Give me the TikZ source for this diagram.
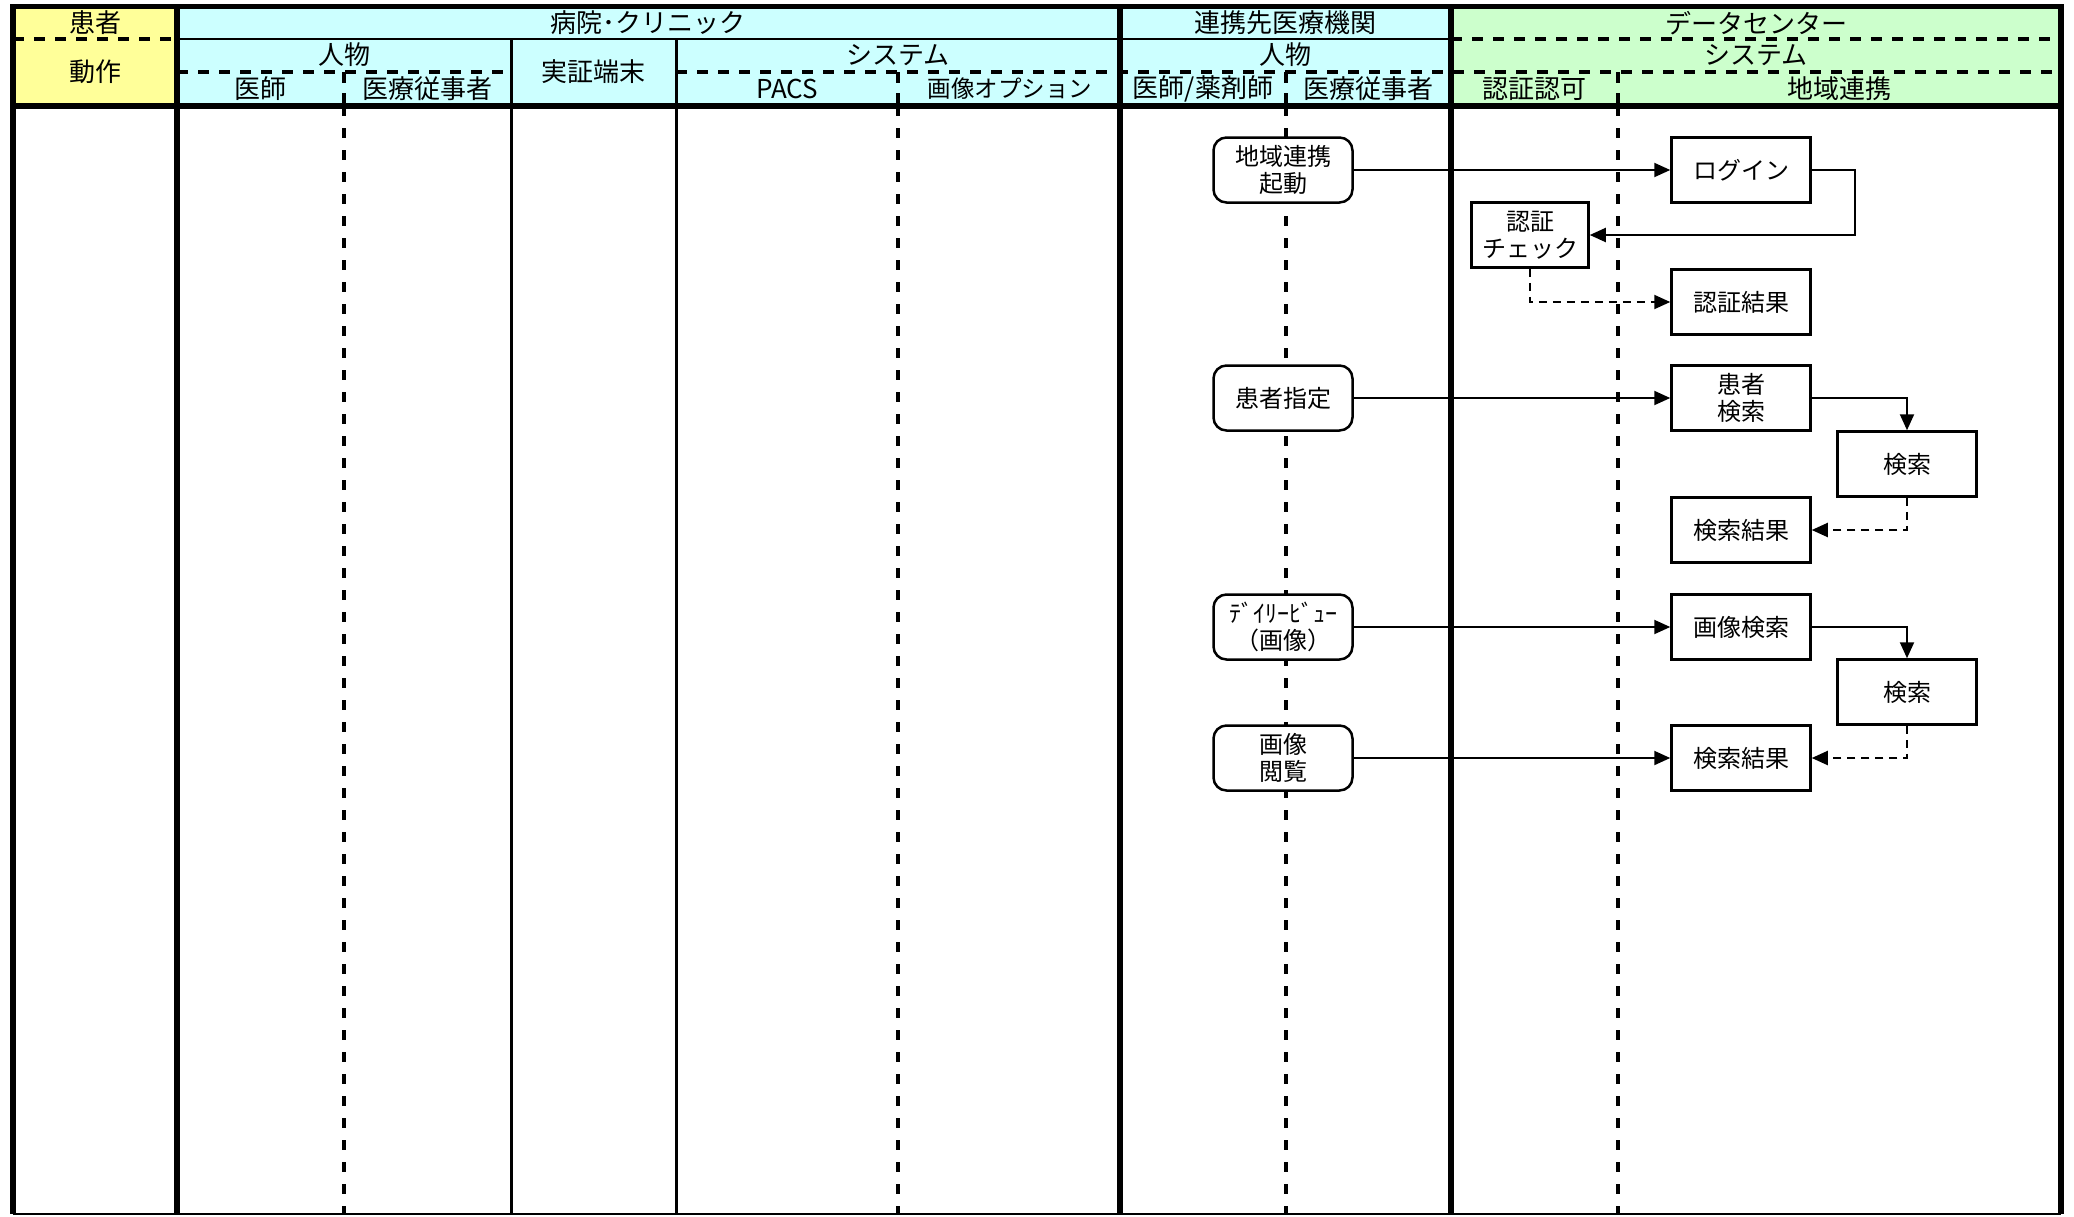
\documentclass[tikz,border=0pt]{standalone}
\usepackage{fontspec}
\setmainfont{Noto Sans CJK JP}
\usepackage{tikz}
\usetikzlibrary{arrows.meta}
\definecolor{kanjaYellow}{HTML}{FFFF99}
\definecolor{byoinCyan}{HTML}{CCFFFF}
\definecolor{centerGreen}{HTML}{CCFFCC}

\begin{document}
\begin{tikzpicture}[x=1pt,y=-1pt,
  hdr/.style={inner sep=0pt,font=\fontsize{26}{30}\selectfont},
  actbox/.style={draw,line width=2.5pt,rounded corners=13pt,fill=white,minimum width=139pt,minimum height=65pt,inner sep=0pt,align=center,font=\fontsize{24}{27}\selectfont},
  sysbox/.style={draw,line width=2.5pt,fill=white,minimum width=139pt,minimum height=65pt,inner sep=0pt,align=center,font=\fontsize{24}{27}\selectfont},
  flow/.style={line width=2pt,-{Triangle[length=16pt,width=14pt]}},
  reply/.style={flow,dash pattern=on 8pt off 6pt},
  hdrdash/.style={line width=3.5pt,dash pattern=on 11pt off 10pt},
  lanedash/.style={line width=4pt,dash pattern=on 10pt off 12pt},
  lanethick/.style={line width=5.5pt},
  lanethin/.style={line width=3pt}]
\useasboundingbox (0,0) rectangle (2074,1216);

%Header fills
\fill[kanjaYellow] (13,6) rectangle (177,106);
\fill[byoinCyan] (177,6) rectangle (1451,106);
\fill[centerGreen] (1451,6) rectangle (2061,106);

%Header row separators
\draw[hdrdash] (13,39) -- (177,39);
\draw[line width=2pt] (177,39) -- (1451,39);
\draw[hdrdash] (1451,39) -- (2061,39);
\draw[hdrdash] (177,72) -- (511,72);
\draw[hdrdash] (676,72) -- (2061,72);

%Header short dashed dividers
\foreach \xx in {344,898,1286,1618}
  \draw[hdrdash] (\xx,72) -- (\xx,106);

%Lanes
\foreach \xx in {344,898,1286,1618}
  \draw[lanedash] (\xx,106) -- (\xx,1214);
\foreach \xx in {511,676}
  \draw[lanethin] (\xx,39) -- (\xx,1214);
\foreach \xx in {13,177,1120,1451,2061}
  \draw[lanethick] (\xx,6) -- (\xx,1214);

%Frame lines
\draw[lanethick] (10,6.5) -- (2064,6.5);
\draw[lanethick] (10,106) -- (2064,106);
\draw[line width=2pt] (13,1214) -- (2061,1214);

% Text Node
\node[hdr] (hKanja) at (95,23) {患者};
\node[hdr] (hByoin) at (648,23) {病院･クリニック};
\node[hdr] (hRenkei) at (1285,23) {連携先医療機関};
\node[hdr] (hCenter) at (1756,23) {データセンター};
% Text Node
\node[hdr] (hDosa) at (95,72) {動作};
\node[hdr] (hJinbutsuA) at (344,55) {人物};
\node[hdr] (hTanmatsu) at (593,72) {実証端末};
\node[hdr] (hSystemA) at (898,55) {システム};
\node[hdr] (hJinbutsuB) at (1285,55) {人物};
\node[hdr] (hSystemB) at (1756,55) {システム};
% Text Node
\node[hdr] (hIshi) at (260,89) {医師};
\node[hdr] (hJujishaA) at (427,89) {医療従事者};
\node[hdr] (hPacs) at (787,89) {PACS};
\node[hdr,font=\fontsize{23.5}{28}\selectfont] (hOption) at (1010,89) {画像オプション};
\node[hdr] (hYakuzai) at (1203,89) {医師/薬剤師};
\node[hdr] (hJujishaB) at (1368,89) {医療従事者};
\node[hdr] (hNinka) at (1534,89) {認証認可};
\node[hdr] (hChiiki) at (1839,89) {地域連携};

%Steps
\node[actbox] (kidou) at (1283,170) {地域連携\\起動};
\node[sysbox] (login) at (1741,170) {ログイン};
\node[sysbox,minimum width=117pt] (ninsho) at (1530,235) {認証\\チェック};
\node[sysbox] (ninshoKekka) at (1741,302) {認証結果};
\node[actbox] (shitei) at (1283,398) {患者指定};
\node[sysbox] (kanjaKensaku) at (1741,398) {患者\\検索};
\node[sysbox] (kensakuA) at (1907,464) {検索};
\node[sysbox] (kekkaA) at (1741,530) {検索結果};
\node[actbox] (daily) at (1283,627) {ﾃﾞｲﾘｰﾋﾞｭｰ\\（画像）};
\node[sysbox] (gazoKensaku) at (1741,627) {画像検索};
\node[sysbox] (kensakuB) at (1907,692) {検索};
\node[actbox] (etsuran) at (1283,758) {画像\\閲覧};
\node[sysbox] (kekkaB) at (1741,758) {検索結果};

%Arrows
\draw[flow] (kidou) -- (login);
\draw[flow] (login.east) -- ++(43,0) |- (ninsho.east);
\draw[reply] (ninsho.south) |- (ninshoKekka.west);
\draw[flow] (shitei) -- (kanjaKensaku);
\draw[flow] (kanjaKensaku.east) -| (kensakuA.north);
\draw[reply] (kensakuA.south) |- (kekkaA.east);
\draw[flow] (daily) -- (gazoKensaku);
\draw[flow] (gazoKensaku.east) -| (kensakuB.north);
\draw[reply] (kensakuB.south) |- (kekkaB.east);
\draw[flow] (etsuran) -- (kekkaB);

\end{tikzpicture}
\end{document}
